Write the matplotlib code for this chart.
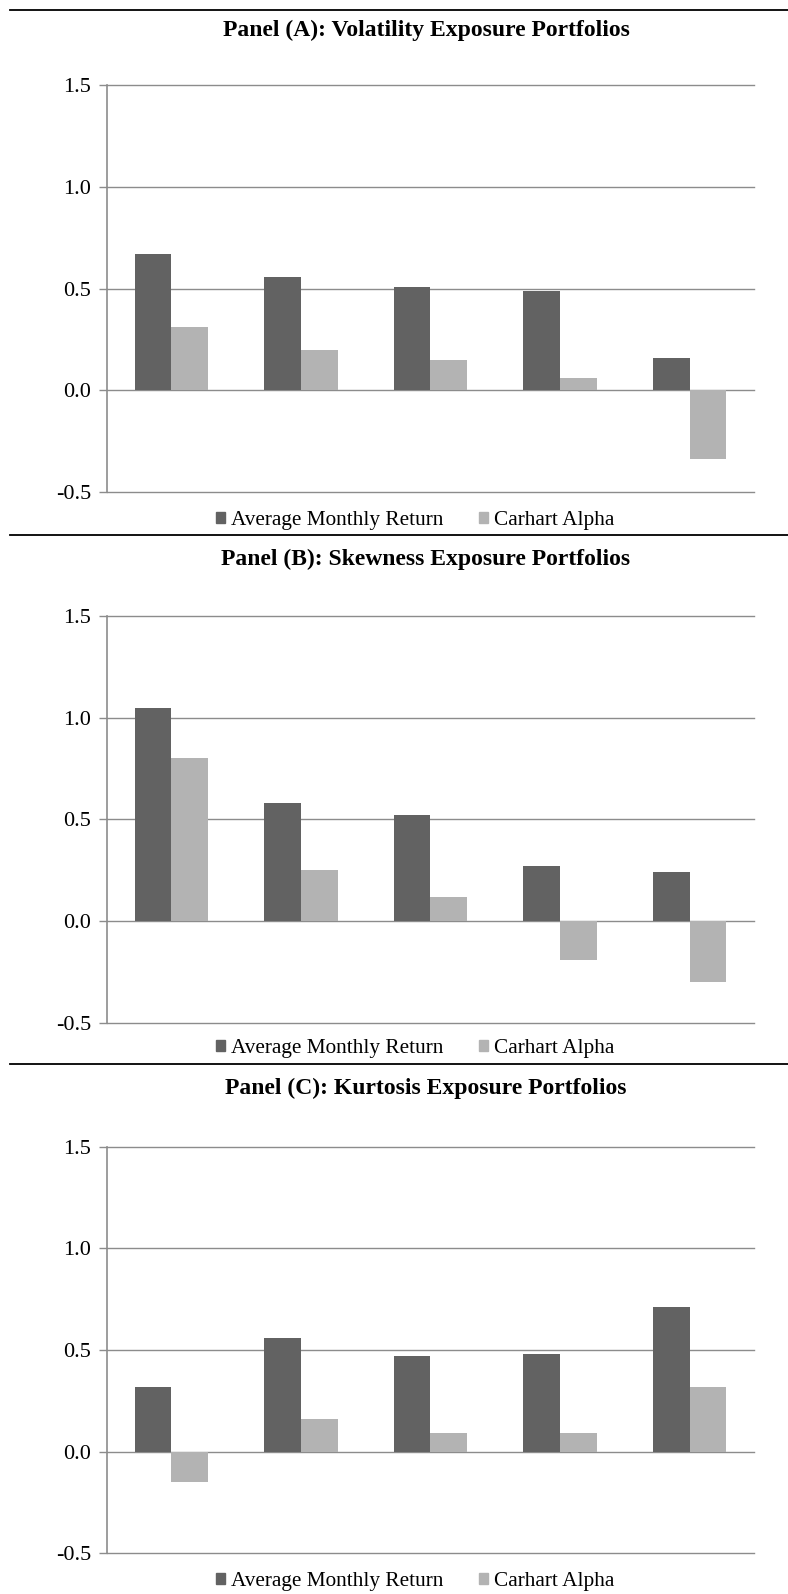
import numpy as np
import matplotlib
matplotlib.use("Agg")
import matplotlib.pyplot as plt
from matplotlib.lines import Line2D
from matplotlib.patches import Patch

# portfolio returns per panel (percent per month)
groups = ["1", "2", "3", "4", "5"]
vol_return = [0.67, 0.56, 0.51, 0.49, 0.16]
vol_alpha = [0.31, 0.20, 0.15, 0.06, -0.34]
skew_return = [1.05, 0.58, 0.52, 0.27, 0.24]
skew_alpha = [0.80, 0.25, 0.12, -0.19, -0.30]
kurt_return = [0.32, 0.56, 0.47, 0.48, 0.71]
kurt_alpha = [-0.15, 0.16, 0.09, 0.09, 0.32]

titles = ["Panel (A): Volatility Exposure Portfolios",
          "Panel (B): Skewness Exposure Portfolios",
          "Panel (C): Kurtosis Exposure Portfolios"]
series_names = ["Average Monthly Return", "Carhart Alpha"]
yticks = [-0.5, 0.0, 0.5, 1.0, 1.5]

DARK = "#626262"
LIGHT = "#b3b3b3"
GRID = "#8c8c8c"

plt.rcParams["font.family"] = ["Liberation Serif", "DejaVu Serif"]

W, H = 788, 1594
fig = plt.figure(figsize=(W / 100, H / 100), dpi=100)

def fy(py):
    return 1 - py / H

# pixel layout of each panel: (top line, title, axes top, axes bottom, legend)
layout = [(10.2, 30.5, 85.4, 492.0, 520.5),
          (534.7, 559.0, 616.0, 1022.7, 1049.0),
          (1064.4, 1088.8, 1146.7, 1553.3, 1581.8)]
panels = [(vol_return, vol_alpha), (skew_return, skew_alpha), (kurt_return, kurt_alpha)]

ax_left, ax_right = 106.7, 754.3
x = np.arange(len(groups))
bw = 0.283

for (line_y, title_y, top, bottom, leg_y), (ret, alpha), title in zip(layout, panels, titles):
    # separator rule above each panel
    fig.add_artist(Line2D([10 / W, 1.0], [fy(line_y)] * 2, color="black", lw=1.3,
                          transform=fig.transFigure))
    fig.text(426 / W, fy(title_y), title, ha="center", va="center",
             fontsize=17, fontweight="bold")

    ax = fig.add_axes([ax_left / W, fy(bottom), (ax_right - ax_left) / W, (bottom - top) / H])
    ax.bar(x - bw / 2, ret, bw, color=DARK, zorder=3)
    ax.bar(x + bw / 2, alpha, bw, color=LIGHT, zorder=3)
    ax.set_xlim(-0.5, len(groups) - 0.5)
    ax.set_ylim(-0.5, 1.5)
    ax.set_yticks(yticks)
    ax.set_yticklabels([f"{t:.1f}" for t in yticks], fontsize=16)
    # horizontal gridlines drawn unclipped so the edge lines show in full
    for t in yticks:
        ax.axhline(t, color=GRID, lw=1.0, zorder=1, clip_on=False)
    ax.set_xticks([])
    for s in ["top", "right", "bottom"]:
        ax.spines[s].set_visible(False)
    ax.spines["left"].set_color(GRID)
    ax.spines["left"].set_linewidth(1.2)
    ax.tick_params(axis="y", length=6, color=GRID, width=1.0, pad=5)

    handles = [Patch(color=DARK), Patch(color=LIGHT)]
    fig.legend(handles, series_names, loc="center", ncol=2,
               bbox_to_anchor=(415 / W, fy(leg_y)), frameon=False, fontsize=15.3,
               handlelength=0.43, handleheight=0.43, handletextpad=0.3,
               columnspacing=1.65)

fig.savefig("out.png", dpi=100)
